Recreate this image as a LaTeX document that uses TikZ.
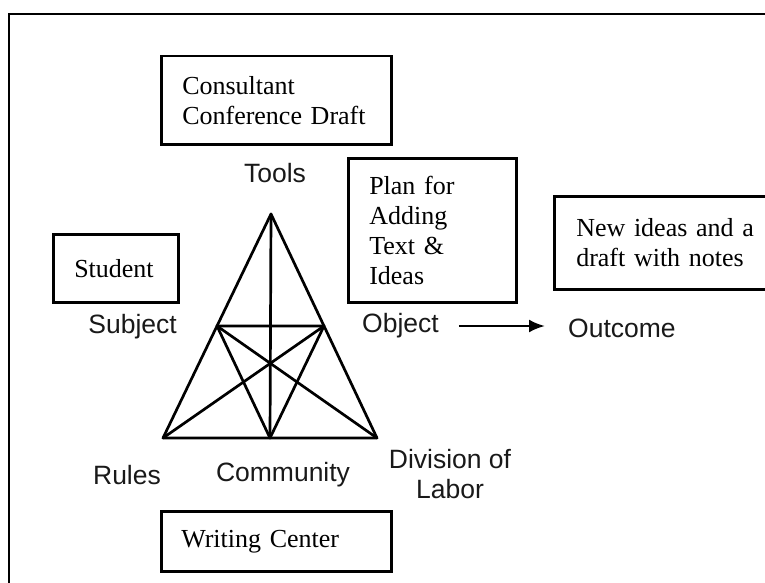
\documentclass[tikz,border=0pt]{standalone}
\usepackage{fontspec}
\setmainfont{Liberation Serif}
\newfontfamily\lsans{Liberation Sans}
\usetikzlibrary{calc,arrows.meta}
\begin{document}
\begin{tikzpicture}[x=1pt,y=-1pt,
  boxnode/.style={draw=black, line width=2.5pt, align=left, anchor=north west,
    inner ysep=0pt, font=\fontsize{26}{30}\selectfont},
  lbl/.style={font=\lsans\fontsize{26.5}{30}\selectfont, text=black!90, inner sep=0pt},
  tri/.style={line width=2.7pt, line join=round, line cap=round}]
\useasboundingbox (0,0) rectangle (765,583);
\draw[line width=2pt] (9,14) rectangle (790,600);

% text boxes
\node[boxnode, inner xsep=21pt, text width=188pt, minimum width=230pt, minimum height=88pt] (consult) at (160,55) {Consultant\\Conference Draft};
\node[boxnode, inner xsep=21pt, text width=126pt, minimum width=168pt, minimum height=144pt] (plan) at (347,157) {Plan for\\Adding\\Text \&\\Ideas};
\node[boxnode, inner xsep=21pt, text width=83pt, minimum width=125pt, minimum height=68pt] (student) at (52,233) {Student};
\node[boxnode, inner xsep=22pt, text width=186pt, minimum width=230pt, minimum height=93pt] (newideas) at (553,195) {New ideas and a\\draft with notes};
\node[boxnode, inner xsep=20pt, text width=190pt, minimum width=230pt, minimum height=60pt] (wcenter) at (160,510) {Writing Center};

% triangle
\coordinate (A) at (271,214);
\coordinate (B) at (163,438);
\coordinate (C) at (377,438);
\coordinate (mAB) at ($(A)!0.5!(B)$);
\coordinate (mAC) at ($(A)!0.5!(C)$);
\coordinate (mBC) at ($(B)!0.5!(C)$);
\draw[tri] (A) -- (B) -- (C) -- cycle;
\draw[tri] (A) -- (mBC);
\draw[tri] (mAB) -- (mAC) -- (mBC) -- cycle;
\draw[tri] (mAB) -- (C);
\draw[tri] (mAC) -- (B);

% labels
\node[lbl] (tools) at (275,173) {Tools};
\node[lbl, anchor=east] (subject) at (177,327) {Subject};
\node[lbl, anchor=west] (object) at (362,326) {Object};
\node[lbl, anchor=west] (outcome) at (568,328) {Outcome};
\node[lbl] (rules) at (127,475) {Rules};
\node[lbl] (community) at (283,475) {Community};
\node[lbl, align=center] (division) at (450,474) {Division of\\Labor};

\draw[line width=2.5pt, -{Latex[length=16pt,width=13pt]}, shorten <=20pt, shorten >=23pt]
  (object.east) -- (object.east -| outcome.west);
\end{tikzpicture}
\end{document}
